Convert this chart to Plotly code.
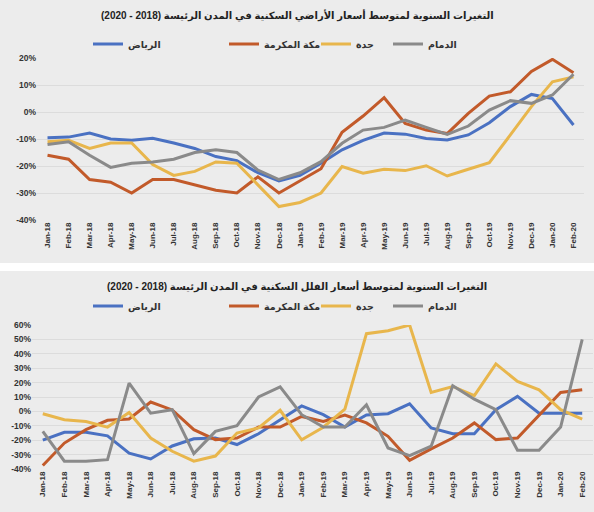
import plotly.graph_objects as go

# months Jan-18 .. Feb-20
months = ['Jan-18', 'Feb-18', 'Mar-18', 'Apr-18', 'May-18', 'Jun-18', 'Jul-18', 'Aug-18',
          'Sep-18', 'Oct-18', 'Nov-18', 'Dec-18', 'Jan-19', 'Feb-19', 'Mar-19', 'Apr-19',
          'May-19', 'Jun-19', 'Jul-19', 'Aug-19', 'Sep-19', 'Oct-19', 'Nov-19', 'Dec-19',
          'Jan-20', 'Feb-20']

city_names = ['الرياض', 'مكة المكرمة', 'جدة', 'الدمام']

# land prices, yearly change (%)
land_riyadh = [-9.5, -9.3, -7.8, -10, -10.5, -9.7, -11.5, -13.5, -16.5, -18, -22.5, -25.5, -23.5,
               -19, -14, -10.5, -7.8, -8.2, -9.8, -10.4, -8.5, -4, 2, 6.5, 5, -4.8]
land_makkah = [-16, -17.5, -25, -26, -30, -25, -25, -27, -29, -30, -24, -30, -25.5,
               -21, -7.5, -1.5, 5.3, -4.2, -6.7, -8, -0.5, 5.9, 7.5, 15, 19.5, 14.5]
land_jeddah = [-11, -10.5, -13.5, -11.5, -11.5, -19.5, -23.5, -22, -18.5, -19, -27, -35, -33.5,
               -30, -20.2, -22.7, -21.2, -21.7, -19.9, -23.7, -21.2, -18.8, -8.5, 2, 11.2, 13]
land_dammam = [-12, -11, -16, -20.5, -19, -18.5, -17.5, -15, -14, -15, -21.5, -25, -22.5,
               -18.4, -11.6, -6.7, -5.7, -3, -5.7, -8.3, -5.2, 0.7, 4.2, 3.2, 6.3, 14]

# villa prices, yearly change (%)
villa_riyadh = [-20, -14.5, -14.5, -17, -29, -33, -24, -19, -18.5, -23, -15.5, -6, 3.8,
                -2.3, -10.9, -2.5, -1.6, 5.3, -11.5, -15.5, -15.5, 1.2, 10.4, -1.2, -1.2, -1.2]
villa_makkah = [-37.6, -22, -12.7, -6.2, -5.3, 6.5, 1, -12.7, -19.6, -18.5, -10.9, -10.9, -3.5,
                -7, -2.5, -8, -17.3, -34, -26, -18.5, -8, -19.6, -18.5, -2.3, 13.2, 15]
villa_jeddah = [-1.6, -5.8, -7, -10.9, -0.7, -18.5, -27.7, -34.6, -31, -15, -11.5, 0.8, -19.7,
                -11, 1.6, 54, 56, 60, 13.2, 17.3, 10.9, 33, 20.8, 15, 1.2, -5.3]
villa_dammam = [-13.9, -34.6, -34.6, -33.5, 19.6, -1.2, 1.2, -29.3, -13.9, -9.9, 10, 17, -2.3,
                -10.9, -10.9, 4.6, -25.4, -30.7, -24.2, 17.8, 8.5, 1.2, -27, -27, -10.9, 50]

top_ticks = [20, 10, 0, -10, -20, -30, -40]
bottom_ticks = [60, 50, 40, 30, 20, 10, 0, -10, -20, -30, -40]

colors = ['#4a71c2', '#c25a2a', '#e8b64c', '#8a8a8a']
bg = '#ececec'

W, H = 594, 512
legend_px = [88, 224, 316, 388]   # left edge of each legend entry (px)

land = [land_riyadh, land_makkah, land_jeddah, land_dammam]
villa = [villa_riyadh, villa_makkah, villa_jeddah, villa_dammam]

fig = go.Figure()
legends = {}
for panel, (series, xa, ya, ly) in enumerate([(land, 'x', 'y', 44), (villa, 'x2', 'y2', 306)]):
    for i, (name, ys, c) in enumerate(zip(city_names, series, colors)):
        n = panel * 4 + i + 1
        key = 'legend' if n == 1 else 'legend%d' % n
        fig.add_trace(go.Scatter(x=months, y=ys, name=name, mode='lines', xaxis=xa, yaxis=ya,
                                 line=dict(color=c, width=3), legend=key))
        legends[key] = dict(x=legend_px[i] / W, y=1 - ly / H, xanchor='left', yanchor='middle',
                            orientation='h', bgcolor='rgba(0,0,0,0)', itemwidth=30,
                            font=dict(family='Arial, DejaVu Sans', size=9.5, color='#333333',
                                      weight='bold'))

tick_font = dict(family='Arial, Liberation Sans', size=8, color='#333333', weight='bold')
xcommon = dict(type='category', tickangle=-90, tickfont=tick_font, showgrid=False,
               showline=False, zeroline=False, ticks='', automargin=False, range=[-0.5, 25.5])
ycommon = dict(tickfont=dict(family='Arial, Liberation Sans', size=8.5, color='#333333', weight='bold'),
               showgrid=True, gridcolor='#dcdcdc', gridwidth=1, zeroline=False, showline=False,
               ticks='', automargin=False)

fig.update_layout(
    width=W, height=H,
    margin=dict(l=0, r=0, t=0, b=0),
    paper_bgcolor=bg, plot_bgcolor=bg,
    showlegend=True,
    xaxis=dict(xcommon, domain=[37 / W, 584 / W], anchor='y'),
    yaxis=dict(ycommon, domain=[1 - 220 / H, 1 - 58 / H], range=[-40, 20], tickvals=top_ticks,
               ticktext=['%d%%' % v for v in top_ticks], anchor='x'),
    xaxis2=dict(xcommon, domain=[32 / W, 593 / W], anchor='y2'),
    yaxis2=dict(ycommon, domain=[1 - 469 / H, 1 - 325 / H], range=[-40, 60], tickvals=bottom_ticks,
                ticktext=['%d%%' % v for v in bottom_ticks], anchor='x2'),
    annotations=[
        dict(text='<b>التغيرات السنوية لمتوسط أسعار الأراضي السكنية في المدن الرئيسة (2018 - 2020)</b>',
             x=0.5, y=1 - 15 / H, xref='paper', yref='paper', showarrow=False, yanchor='middle',
             font=dict(family='Arial, DejaVu Sans', size=10, color='#222222')),
        dict(text='<b>التغيرات السنوية لمتوسط أسعار الفلل السكنية في المدن الرئيسة (2018 - 2020)</b>',
             x=0.5, y=1 - 286 / H, xref='paper', yref='paper', showarrow=False, yanchor='middle',
             font=dict(family='Arial, DejaVu Sans', size=10, color='#222222')),
    ],
    shapes=[
        # white strip between the two panels
        dict(type='rect', xref='paper', yref='paper', x0=-0.05, x1=1.05, y0=1 - 271 / H, y1=1 - 263 / H,
             fillcolor='white', line=dict(width=0), layer='above'),
    ],
)
fig.update_layout(**legends)

fig.write_html("out.html", config={'displayModeBar': False},
               post_script="document.body.style.margin='0';")
